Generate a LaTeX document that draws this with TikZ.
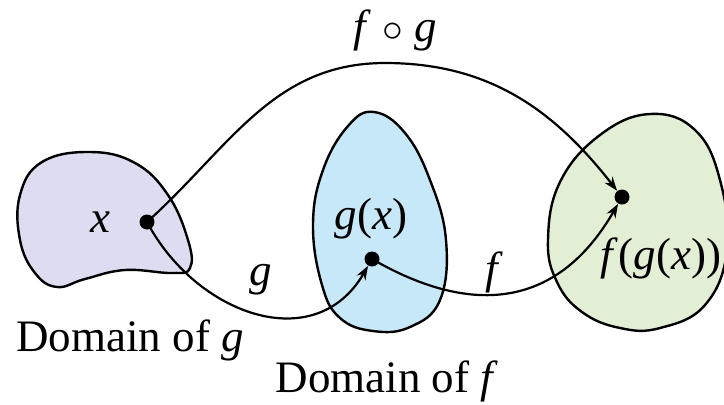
\documentclass[tikz,border=0pt]{standalone}
\usepackage{fontspec}
\setmainfont{Liberation Serif}
\usetikzlibrary{arrows.meta}
\definecolor{domg}{RGB}{222,220,240}
\definecolor{domf}{RGB}{198,232,248}
\definecolor{rang}{RGB}{227,239,213}

\begin{document}
\begin{tikzpicture}[
    x=0.5pt, y=-0.5pt,
    every node/.style={font=\fontsize{22.5}{27}\selectfont},
    blob/.style={draw, line width=1.2pt},
    dot/.style={circle, fill, inner sep=0pt, minimum size=7.5pt},
    flow/.style={-{Stealth[length=7pt, width=5pt]}, line width=1.1pt}
]
\useasboundingbox (0,0) rectangle (724,404);
\draw[blob, fill=domg] plot[smooth cycle, tension=0.7] coordinates {(20,195) (42,162) (90,152) (135,163) (168,195) (188,240) (190,268) (172,273) (125,270) (85,279) (57,287) (35,273) (20,240)};
\draw[blob, fill=domf] plot[smooth cycle, tension=0.7] coordinates {(374,112) (405,133) (430,180) (446,240) (440,300) (410,327) (373,331) (340,318) (322,285) (313,225) (323,170) (348,126)};
\draw[blob, fill=rang] plot[smooth cycle, tension=0.7] coordinates {(548,240) (560,182) (600,135) (650,114) (695,130) (720,180) (727,250) (705,305) (660,328) (620,328) (582,312) (557,282)};
\node[dot] (x) at (147,222) {};
\node[dot] (gx) at (372,259) {};
\node[dot] (fgx) at (622,197) {};
\node (xlab) at (100,222) {\textit{x}};
\node (gxlab) at (371,219) {\textit{g}(\textit{x})};
\node (fgxlab) at (661,258) {\textit{f}(\textit{g}(\textit{x}))};
\node (comp) at (395,30) {\textit{f} $\circ$ \textit{g}};
\node (glab) at (261,280) {\textit{g}};
\node (flab) at (494,272) {\textit{f}};
\node (domg) at (130,340) {Domain of \textit{g}};
\node (domf) at (387,381) {Domain of \textit{f}};
\draw[flow] (x.center) to[out=42, in=180] (385,63) to[out=0, in=128] (fgx);
\draw[flow] (x.center) to[out=-62, in=240, looseness=1.2] (gx);
\draw[flow] (gx.center) to[out=-30, in=240, looseness=1.2] (fgx);
\end{tikzpicture}
\end{document}
